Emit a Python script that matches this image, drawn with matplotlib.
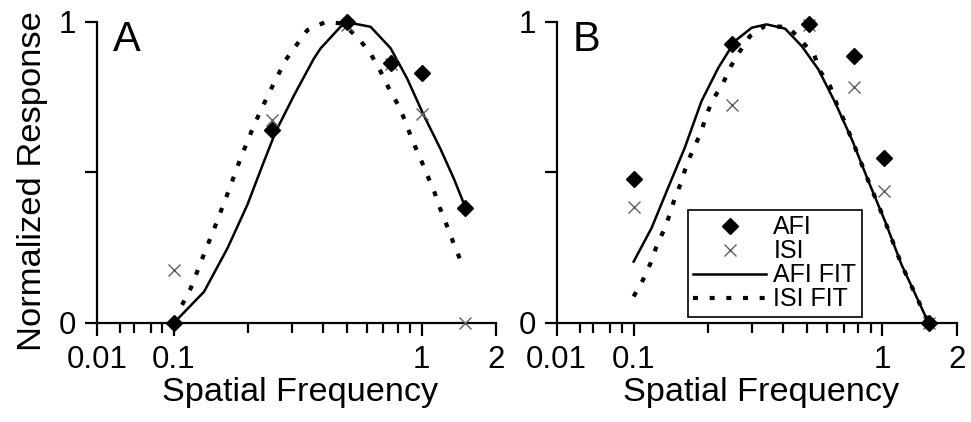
import numpy as np
import matplotlib
matplotlib.use('Agg')
import matplotlib.pyplot as plt
from matplotlib.ticker import FixedLocator, FixedFormatter, NullFormatter
from matplotlib.lines import Line2D

plt.rcParams['font.family'] = ['Liberation Sans', 'DejaVu Sans']

# ---- data ----
# panel A
a_freq = [0.1, 0.25, 0.5, 0.75, 1.0, 1.5]
a_afi = [0.0, 0.64, 1.0, 0.865, 0.83, 0.383]
a_isi_freq = [0.1, 0.25, 0.5, 0.75, 1.0, 1.5]
a_isi = [0.175, 0.674, 0.99, 0.86, 0.693, 0.0]

a_afi_fit_x = [0.1, 0.1325, 0.1646, 0.198, 0.231, 0.258, 0.306, 0.368, 0.392, 0.471,
               0.494, 0.623, 0.75, 0.874, 1.02, 1.19, 1.35, 1.48]
a_afi_fit_y = [0.0, 0.104, 0.248, 0.392, 0.536, 0.636, 0.757, 0.879, 0.913, 0.984,
               1.0, 0.984, 0.913, 0.813, 0.691, 0.58, 0.48, 0.398]
a_isi_fit_x = [0.108, 0.117, 0.132, 0.1476, 0.167, 0.186, 0.211, 0.242, 0.283, 0.346,
               0.41, 0.48, 0.556, 0.622, 0.684, 0.738, 0.805, 0.862, 0.916, 0.984,
               1.047, 1.12, 1.185, 1.26, 1.34, 1.43]
a_isi_fit_y = [0.06, 0.115, 0.226, 0.326, 0.442, 0.547, 0.658, 0.763, 0.874, 0.973,
               1.0, 0.995, 0.946, 0.896, 0.835, 0.78, 0.724, 0.669, 0.608, 0.552,
               0.497, 0.442, 0.383, 0.328, 0.27, 0.212]

# panel B
b_freq = [0.1, 0.25, 0.51, 0.77, 1.02, 1.55]
b_afi = [0.48, 0.928, 0.992, 0.887, 0.548, 0.0]
b_isi_freq = [0.1, 0.25, 0.51, 0.77, 1.02, 1.55]
b_isi = [0.384, 0.724, 0.99, 0.784, 0.44, 0.0]

b_afi_fit_x = [0.1, 0.118, 0.1376, 0.1606, 0.1876, 0.219, 0.256, 0.299, 0.343, 0.407,
               0.475, 0.555, 0.648, 0.757, 0.883, 1.03, 1.2, 1.406, 1.54]
b_afi_fit_y = [0.204, 0.315, 0.449, 0.582, 0.737, 0.847, 0.937, 0.981, 0.992, 0.978,
               0.92, 0.842, 0.732, 0.609, 0.47, 0.337, 0.193, 0.071, 0.0]
b_isi_fit_x = [0.1, 0.109, 0.117, 0.1235, 0.1326, 0.1397, 0.1464, 0.156, 0.1632, 0.1736,
               0.1865, 0.1966, 0.209, 0.2294, 0.2464, 0.268, 0.294, 0.338, 0.42, 0.468,
               0.534, 0.563, 0.618, 0.658, 0.706, 0.757, 0.883, 1.03, 1.2, 1.406, 1.54]
b_isi_fit_y = [0.088, 0.143, 0.199, 0.254, 0.31, 0.36, 0.415, 0.47, 0.526, 0.576,
               0.632, 0.693, 0.743, 0.798, 0.853, 0.903, 0.953, 0.987, 0.983, 0.942,
               0.89, 0.837, 0.787, 0.726, 0.67, 0.609, 0.47, 0.337, 0.193, 0.071, 0.0]

major_ticks = [0.01, 0.1, 1, 2]
major_labels = ['0.01', '0.1', '1', '2']
minor_ticks = [0.02, 0.03, 0.05, 0.07, 0.2, 0.3, 0.4, 0.5, 0.6, 0.7, 0.8, 0.9]
y_ticks = [0, 0.5, 1]
y_labels = ['0', '', '1']

# compressed decade below 0.1
K = 0.31


def fwd(x):
    x = np.asarray(x, dtype=float)
    t = np.log10(np.clip(x, 1e-6, None))
    return np.where(t >= -1, t, -1 + (t + 1) * K)


def inv(p):
    p = np.asarray(p, dtype=float)
    with np.errstate(over='ignore'):
        return np.where(p >= -1, 10.0 ** p, 10.0 ** (-1 + (p + 1) / K))


DIAMOND = dict(marker='D', ms=8.5, color='black', ls='none', clip_on=False, zorder=4)
CROSS = dict(marker='x', ms=9, mew=1.0, color='#606060', ls='none', clip_on=False, zorder=3)
SOLID = dict(color='black', lw=1.8, clip_on=False, zorder=2)
DOTTED = dict(color='black', lw=3.0, dashes=(1.2, 2.8), clip_on=False, zorder=2)

fig = plt.figure(figsize=(9.71, 4.22), dpi=100)
axA = fig.add_axes([0.0999, 0.2346, 0.411, 0.7133])
axB = fig.add_axes([0.5733, 0.2346, 0.412, 0.7133])

panels = [
    (axA, 'A', a_freq, a_afi, a_isi_freq, a_isi, a_afi_fit_x, a_afi_fit_y, a_isi_fit_x, a_isi_fit_y),
    (axB, 'B', b_freq, b_afi, b_isi_freq, b_isi, b_afi_fit_x, b_afi_fit_y, b_isi_fit_x, b_isi_fit_y),
]

for ax, letter, fx, afi, ix, isi, sfx, sfy, dfx, dfy in panels:
    ax.set_xscale('function', functions=(fwd, inv))
    ax.plot(sfx, sfy, **SOLID)
    ax.plot(dfx, dfy, **DOTTED)
    ax.plot(ix, isi, **CROSS)
    ax.plot(fx, afi, **DIAMOND)

    ax.set_xlim(0.01, 2)
    ax.set_ylim(0, 1)
    ax.xaxis.set_major_locator(FixedLocator(major_ticks))
    ax.xaxis.set_major_formatter(FixedFormatter(major_labels))
    ax.xaxis.set_minor_locator(FixedLocator(minor_ticks))
    ax.xaxis.set_minor_formatter(NullFormatter())
    ax.yaxis.set_major_locator(FixedLocator(y_ticks))
    ax.yaxis.set_major_formatter(FixedFormatter(y_labels))
    ax.yaxis.set_minor_locator(FixedLocator([]))

    for side in ['top', 'right']:
        ax.spines[side].set_visible(False)
    for side in ['left', 'bottom']:
        ax.spines[side].set_linewidth(1.6)
    ax.tick_params(which='major', direction='out', length=9, width=1.6,
                   labelsize=22.5, color='black')
    ax.tick_params(axis='x', which='major', pad=7)
    ax.tick_params(axis='y', which='major', pad=6)
    ax.tick_params(which='minor', direction='out', length=7, width=1.6)

    ax.set_xlabel('Spatial Frequency', fontsize=24.7)
    ax.xaxis.set_label_coords(0.51, -0.18)
    ax.text(0.04, 1.005, letter, transform=ax.transAxes, fontsize=30,
            ha='left', va='top')
    ax.patch.set_alpha(0)

axA.set_ylabel('Normalized Response', fontsize=24.8)
axA.yaxis.set_label_coords(-0.123, 0.47)

handles = [
    Line2D([], [], **{k: v for k, v in DIAMOND.items() if k != 'clip_on'}),
    Line2D([], [], **{k: v for k, v in CROSS.items() if k != 'clip_on'}),
    Line2D([], [], **{k: v for k, v in SOLID.items() if k != 'clip_on'}),
    Line2D([], [], **{k: v for k, v in DOTTED.items() if k != 'clip_on'}),
]
leg = axB.legend(handles, ['AFI', 'ISI', 'AFI FIT', 'ISI FIT'],
                 loc='lower left', bbox_to_anchor=(0.328, 0.02), borderaxespad=0,
                 fontsize=18, numpoints=1, handlelength=2.9, handletextpad=0.3,
                 labelspacing=0.0, borderpad=0.22, fancybox=False, framealpha=1)
leg.get_frame().set_edgecolor('black')
leg.get_frame().set_linewidth(1.2)

fig.savefig('out.png', dpi=100)
